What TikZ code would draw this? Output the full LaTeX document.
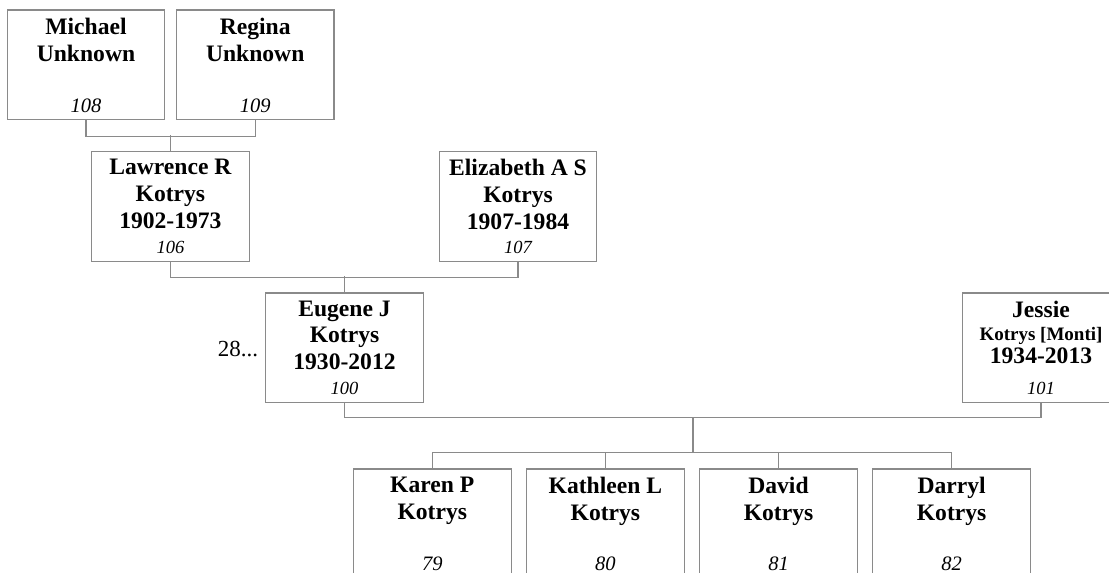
\documentclass[tikz,border=0pt]{standalone}
\usepackage{fontspec}
\setmainfont{Liberation Serif}
\definecolor{linegray}{HTML}{8A8A8A}
\tikzset{
  person/.style={draw=linegray, line width=1.1pt, minimum width=157.5pt, minimum height=109.5pt, inner sep=0pt},
  pname/.style={anchor=north, align=center, inner sep=0pt, font=\fontsize{23.6}{26.6}\selectfont\bfseries},
  pid/.style={anchor=base, inner sep=0pt, font=\fontsize{18.5}{20}\selectfont\itshape},
  pidbig/.style={pid, font=\fontsize{20.5}{22}\selectfont\itshape},
  link/.style={draw=linegray, line width=1.1pt}
}
\begin{document}
\begin{tikzpicture}[x=1pt,y=-1pt]
\clip (0,0) rectangle (1109,573);
% grandparents
\node[person] (p108) at (86,64.7) {};
\node[person] (p109) at (255.2,64.7) {};
\node[pname] (t108) at ([yshift=-8.5pt]p108.north) {Michael\\Unknown};
\node[pname] (t109) at ([yshift=-8.5pt]p109.north) {Regina\\Unknown};
\node[pidbig] (n108) at ([yshift=7.5pt]p108.south) {108};
\node[pidbig] (n109) at ([yshift=7.5pt]p109.south) {109};
% parents
\node[person] (p106) at (170.4,206.3) {};
\node[person] (p107) at (518,206.3) {};
\node[pname] (t106) at ([yshift=-8.3pt]p106.north) {Lawrence R\\Kotrys\\1902-1973};
\node[pname] (t107) at ([yshift=-8.3pt]p107.north) {Elizabeth A S\\Kotrys\\1907-1984};
\node[pid] (n106) at ([yshift=8.5pt]p106.south) {106};
\node[pid] (n107) at ([yshift=8.5pt]p107.south) {107};
% couple
\node[person] (p100) at (344.5,347.7) {};
\node[person] (p101) at (1041,347.7) {};
\node[pname] (t100) at ([yshift=-8.3pt]p100.north) {Eugene J\\Kotrys\\1930-2012};
\node[pname, font=\fontsize{23.6}{23.3}\selectfont\bfseries] (t101) at ([yshift=-8.3pt]p101.north)
  {Jessie\\{\fontsize{19}{23.3}\selectfont Kotrys [Monti]}\\1934-2013};
\node[pid] (n100) at ([yshift=9pt]p100.south) {100};
\node[pid] (n101) at ([yshift=9pt]p101.south) {101};
\node[anchor=base east, inner sep=0pt, font=\fontsize{23}{26}\selectfont] (more100) at (258.3,356.7) {28...};
% children
\node[person] (p79) at (432.3,523.7) {};
\node[person] (p80) at (605.4,523.7) {};
\node[person] (p81) at (778.5,523.7) {};
\node[person] (p82) at (951.6,523.7) {};
\node[pname] (t79) at ([yshift=-8.5pt]p79.north) {Karen P\\Kotrys};
\node[pname] (t80) at ([yshift=-8.5pt]p80.north) {Kathleen L\\Kotrys};
\node[pname] (t81) at ([yshift=-8.5pt]p81.north) {David\\Kotrys};
\node[pname] (t82) at ([yshift=-8.5pt]p82.north) {Darryl\\Kotrys};
\node[pidbig] (n79) at ([yshift=9pt]p79.south) {79};
\node[pidbig] (n80) at ([yshift=9pt]p80.south) {80};
\node[pidbig] (n81) at ([yshift=9pt]p81.south) {81};
\node[pidbig] (n82) at ([yshift=9pt]p82.south) {82};
% lines
\coordinate (fam100) at (693,417.2);
\coordinate (kids100) at (693,453.2);
\path[draw,link] (p108.south) -- ++(0,16.4) -| (p109.south);
\path[draw,link] (p106.north) -- ++(0,-16);
\path[draw,link] (p106.south) -- ++(0,16) -| (p107.south);
\path[draw,link] (p100.north) -- ++(0,-16);
\path[draw,link] (p100.south) -- ++(0,14.5) -| (p101.south);
\path[draw,link] (fam100) -- (kids100);
\path[draw,link] (p79.north) -- ++(0,-16) -| (p82.north);
\path[draw,link] (p80.north) -- ++(0,-16);
\path[draw,link] (p81.north) -- ++(0,-16);
\end{tikzpicture}
\end{document}
